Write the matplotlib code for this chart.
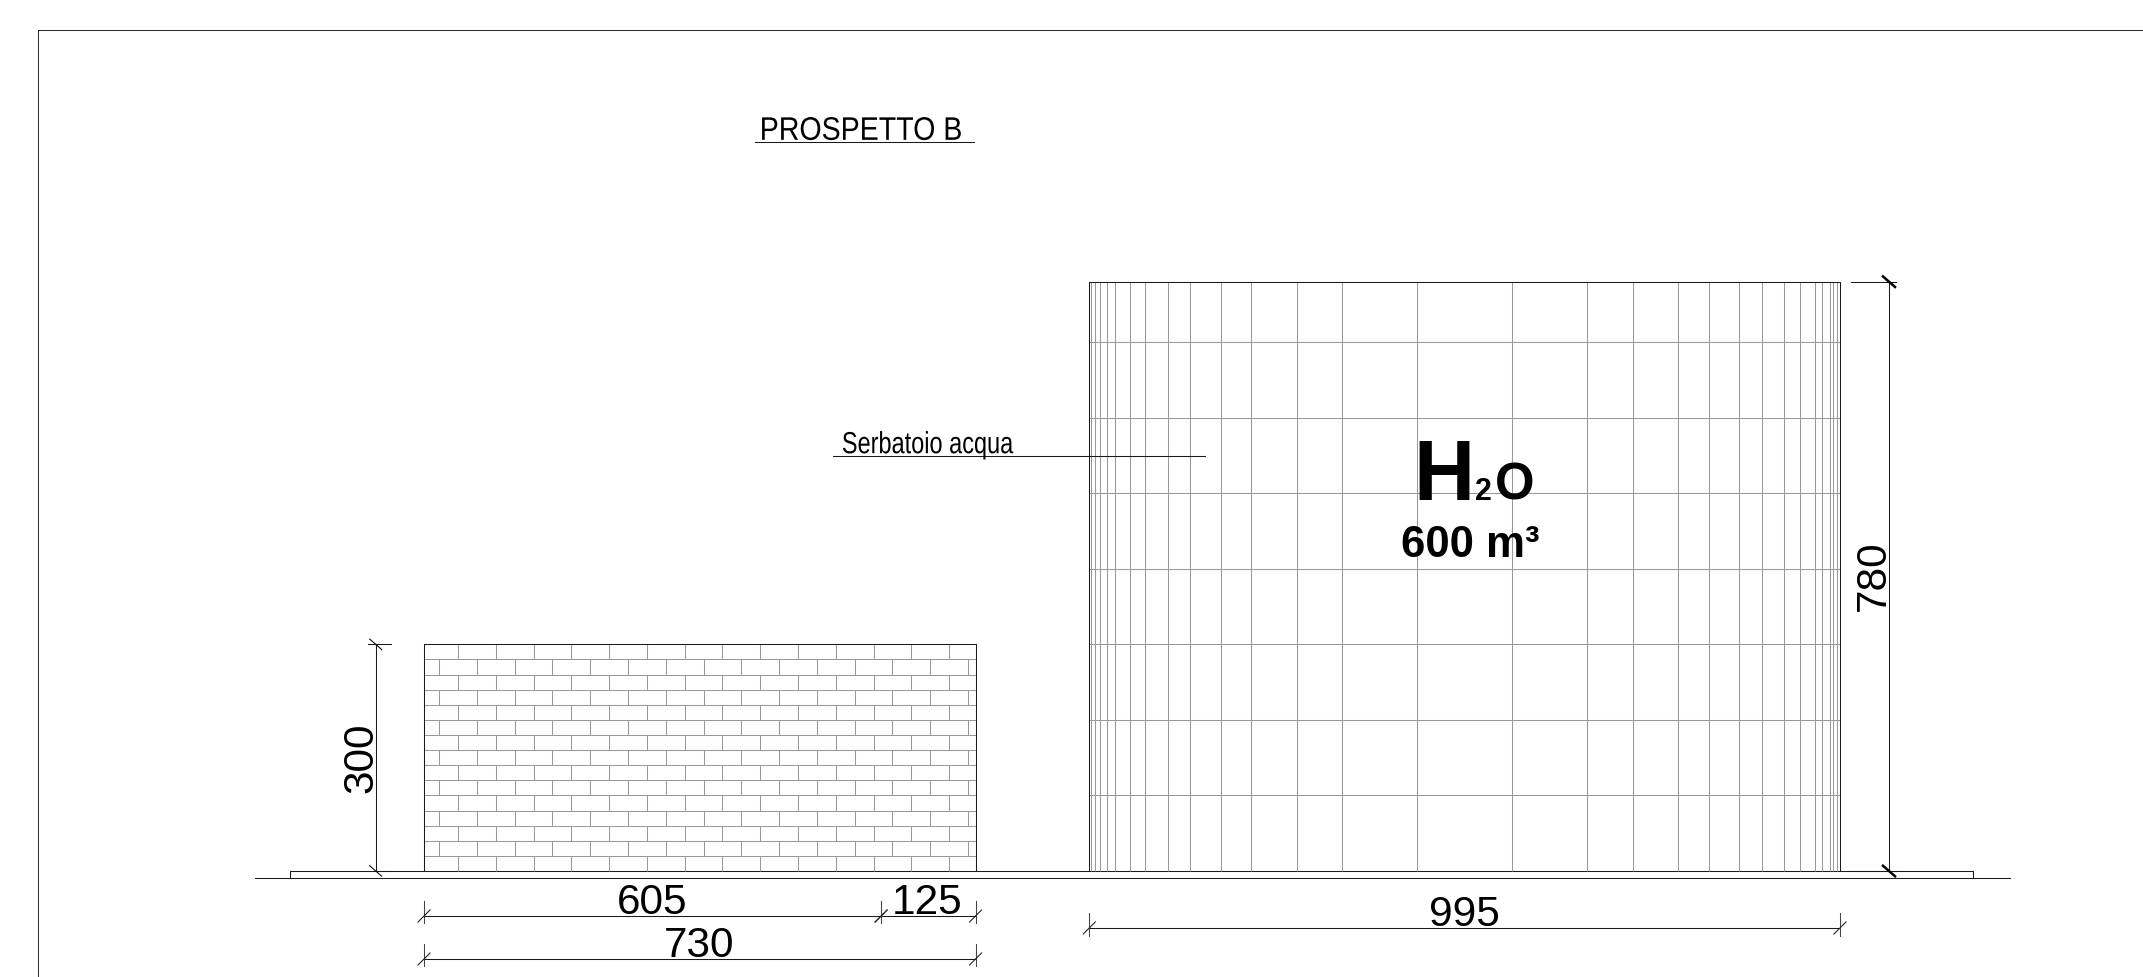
import matplotlib
matplotlib.use('Agg')
import matplotlib.pyplot as plt
from matplotlib.patheffects import AbstractPathEffect
from matplotlib.transforms import Affine2D

# all lengths in cm, as on the drawing
WALL_W = 730
WALL_H = 300
WALL_SPLIT = 605
TANK_L = 880.6
TANK_R = 1874.2
TANK_H = 780
PLINTH = [-177.4, 2050.3]
GROUND = [-223.7, 2099.3]
GROUND_Y = -9.3
FRAME_X = -510.9
FRAME_Y = 1113.2

brick_rows = [0, 20, 40, 60, 80, 100, 120, 140, 160, 180, 200, 220, 240, 260, 280, 300]
joints_a = [45, 95, 145, 195, 245, 295, 345, 395, 445, 495, 545, 595, 645, 695]
joints_b = [20, 70, 120, 170, 220, 270, 320, 370, 420, 470, 520, 570, 620, 670, 720]

tank_rows = [100, 200, 300, 400, 500, 600, 700]
tank_cols = [882.9, 887.8, 894.4, 904.4, 914.6, 934.5, 954.3, 984.4, 1014.3, 1054.5,
             1094.6, 1155.1, 1214.7, 1314.8, 1440.1, 1540, 1599.7, 1659.8, 1700.5,
             1740.6, 1770.8, 1800.1, 1821.3, 1840.6, 1850.4, 1861, 1864.9, 1870.2]

DARK = '#1a1a1a'
GREY = '#9a9a9a'
LW = 0.75

plt.rcParams['font.family'] = ['Liberation Sans', 'DejaVu Sans']


class Squeeze(AbstractPathEffect):
    # no narrow font here, so squeeze the glyph outlines sideways
    def __init__(self, sx):
        super().__init__()
        self.sx = sx

    def draw_path(self, renderer, gc, tpath, affine, rgbFace=None):
        renderer.draw_path(gc, tpath, Affine2D().scale(self.sx, 1) + affine, rgbFace)


fig = plt.figure(figsize=(21.43, 9.78), dpi=100)
ax = fig.add_axes([0, 0, 1, 1])
ax.set_xlim(-561.2, 2275.3)
ax.set_ylim(-140.3, 1154.2)
ax.axis('off')


def hdim(x0, x1, y, y0, y1):
    ax.plot([x0, x1], [y, y], color=DARK, lw=LW)
    for x in (x0, x1):
        ax.plot([x, x], [y0, y1], color='#444444', lw=LW)
        ax.plot([x - 8, x + 8], [y - 8, y + 8], color=DARK, lw=LW)


def vdim(x, y0, y1, x0, x1, lw=LW):
    ax.plot([x, x], [y0, y1], color=DARK, lw=LW)
    for y in (y0, y1):
        ax.plot([x0, x1], [y, y], color=DARK, lw=LW)
        ax.plot([x - 8, x + 8], [y + 7, y - 7], color='black', lw=lw)


# frame
ax.plot([FRAME_X, FRAME_X], [-140.3, FRAME_Y], color='#333333', lw=LW)
ax.plot([FRAME_X, 2275.3], [FRAME_Y, FRAME_Y], color='#333333', lw=LW)

# ground and plinth
ax.plot(GROUND, [GROUND_Y, GROUND_Y], color=DARK, lw=LW)
ax.plot([PLINTH[0], PLINTH[0], PLINTH[1], PLINTH[1]],
        [GROUND_Y, 0, 0, GROUND_Y], color=DARK, lw=LW)

# brick wall
ax.hlines(brick_rows[1:-1], 0, WALL_W, color=GREY, lw=LW)
for i in range(len(brick_rows) - 1):
    joints = joints_a if i % 2 == 0 else joints_b
    ax.vlines(joints, brick_rows[i], brick_rows[i + 1], color=GREY, lw=LW)
ax.plot([0, 0, WALL_W, WALL_W], [0, WALL_H, WALL_H, 0], color=DARK, lw=LW)

# tank
ax.hlines(tank_rows, TANK_L, TANK_R, color=GREY, lw=LW)
ax.vlines(tank_cols, 0, TANK_H, color=GREY, lw=LW)
ax.plot([TANK_L, TANK_L, TANK_R, TANK_R], [0, TANK_H, TANK_H, 0], color=DARK, lw=LW)

# dimensions
hdim(0, WALL_SPLIT, -59.6, -39.7, -68.8)
hdim(WALL_SPLIT, WALL_W, -59.6, -39.7, -68.8)
hdim(0, WALL_W, -116.5, -96.6, -125.7)
hdim(TANK_L, TANK_R, -75.4, -55.6, -86)
vdim(-63.9, 0, WALL_H, -74.1, -43.7)
vdim(1939.1, 0, TANK_H, 1888.8, 1948, lw=1.8)

dim_font = dict(fontsize=30.5, color='black')
ax.text(301.4, -55.6, '605', ha='center', va='baseline', **dim_font)
ax.text(665.8, -55.6, '125', ha='center', va='baseline', **dim_font)
ax.text(364, -112.5, '730', ha='center', va='baseline', **dim_font)
ax.text(1376.6, -71.5, '995', ha='center', va='baseline', **dim_font)
ax.text(-67.9, 150.9, '300', rotation=90, rotation_mode='anchor',
        ha='center', va='baseline', **dim_font)
ax.text(1933.9, 392.5, '780', rotation=90, rotation_mode='anchor',
        ha='center', va='baseline', **dim_font)

# labels
ax.text(444.4, 967.8, 'PROSPETTO B', fontsize=23.5, va='baseline',
        path_effects=[Squeeze(0.875)])
ax.plot([437.6, 727.5], [964.6, 964.6], color=DARK, lw=LW)
ax.text(553.1, 553, 'Serbatoio acqua', fontsize=22, va='baseline',
        path_effects=[Squeeze(0.77)])
ax.plot([541.2, 1033.2], [549, 549], color=DARK, lw=LW)

ax.text(1309.5, 492.8, 'H', fontsize=61, fontweight='bold', va='baseline')
ax.text(1391, 492.8, '2', fontsize=22, fontweight='bold', va='baseline')
ax.text(1418, 492.8, 'O', fontsize=36.5, fontweight='bold', va='baseline')
ax.text(1385, 417, '600 m³', fontsize=31.5, fontweight='bold', ha='center', va='baseline')

fig.savefig('out.png', dpi=100)
